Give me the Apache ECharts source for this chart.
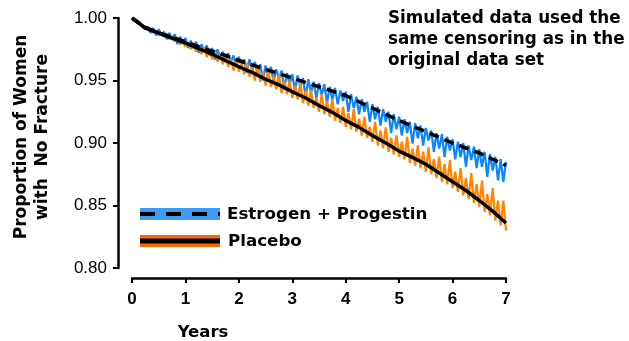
<!DOCTYPE html>
<html>
<head>
<meta charset="utf-8">
<script src="https://cdn.jsdelivr.net/npm/echarts@6/dist/echarts.min.js"></script>
<style>html,body{margin:0;padding:0;background:#fff}#c{width:629px;height:341px}</style>
</head>
<body>
<div id="c"></div>
<script>
// Mean survival curves (years, proportion)
const meanYears = [0,0.25,0.5,0.75,1,1.25,1.5,1.75,2,2.25,2.5,2.75,3,3.25,3.5,3.75,4,4.25,4.5,4.75,5,5.25,5.5,5.75,6,6.25,6.5,6.75,7];
const estrogenMean = [1.000,0.9925,0.988,0.9846,0.981,0.977,0.9735,0.970,0.966,0.9625,0.959,0.9555,0.952,0.9485,0.945,0.9415,0.938,0.933,0.928,0.923,0.918,0.9135,0.909,0.9045,0.900,0.896,0.892,0.887,0.882];
const placeboMean = [1.000,0.992,0.988,0.984,0.980,0.9755,0.971,0.966,0.961,0.9565,0.951,0.9465,0.941,0.936,0.930,0.9245,0.918,0.9125,0.906,0.900,0.8935,0.8885,0.883,0.876,0.869,0.862,0.854,0.8455,0.836];

// Simulated curves envelope, sampled every 0.1 year (hi/lo alternate)
const estrogenSimHi = [1.000,0.997,0.994,0.993,0.992,0.991,0.989,0.988,0.987,0.985,0.984,0.982,0.981,0.979,0.978,0.976,0.975,0.973,0.972,0.970,0.969,0.967,0.967,0.965,0.963,0.962,0.961,0.959,0.958,0.956,0.955,0.954,0.952,0.951,0.949,0.948,0.947,0.945,0.944,0.942,0.941,0.939,0.937,0.935,0.933,0.931,0.929,0.927,0.925,0.923,0.921,0.919,0.917,0.916,0.914,0.912,0.910,0.908,0.907,0.905,0.903,0.901,0.900,0.898,0.897,0.895,0.893,0.891,0.889,0.887,0.885];
const estrogenSimLo = [0.9975,0.9945,0.991,0.988,0.986,0.986,0.983,0.9826,0.979,0.9797,0.976,0.9757,0.972,0.9737,0.970,0.9667,0.968,0.9647,0.965,0.9607,0.961,0.956,0.9585,0.955,0.950,0.953,0.949,0.9515,0.943,0.9467,0.942,0.945,0.9365,0.940,0.9357,0.938,0.932,0.9345,0.931,0.9337,0.925,0.928,0.923,0.925,0.917,0.919,0.914,0.917,0.908,0.911,0.906,0.908,0.8995,0.9037,0.898,0.902,0.893,0.8955,0.8887,0.894,0.887,0.8886,0.881,0.8864,0.880,0.881,0.873,0.878,0.870,0.869];
const placeboSimLo = [1.000,0.996,0.992,0.990,0.988,0.986,0.985,0.983,0.981,0.979,0.977,0.975,0.973,0.971,0.969,0.967,0.965,0.963,0.961,0.958,0.957,0.955,0.953,0.950,0.949,0.946,0.945,0.943,0.940,0.939,0.936,0.935,0.932,0.930,0.928,0.925,0.923,0.921,0.918,0.916,0.913,0.911,0.909,0.906,0.904,0.901,0.898,0.896,0.893,0.891,0.889,0.887,0.884,0.882,0.880,0.877,0.875,0.872,0.869,0.867,0.864,0.861,0.858,0.855,0.852,0.849,0.845,0.842,0.838,0.834,0.830];
const placeboSimHi = [0.999,0.9962,0.9934,0.9914,0.990,0.988,0.9876,0.985,0.9844,0.9818,0.981,0.980,0.9775,0.9767,0.974,0.974,0.971,0.970,0.967,0.967,0.964,0.9643,0.9604,0.9613,0.957,0.958,0.9533,0.955,0.950,0.950,0.946,0.948,0.942,0.9426,0.936,0.939,0.9337,0.935,0.928,0.929,0.924,0.927,0.9194,0.921,0.913,0.917,0.910,0.9126,0.904,0.906,0.901,0.905,0.8955,0.898,0.893,0.8966,0.887,0.889,0.883,0.8864,0.877,0.880,0.872,0.876,0.867,0.870,0.859,0.864,0.854,0.854];

const xTicks = [0,1,2,3,4,5,6,7];
const yTicks = [0.80,0.85,0.90,0.95,1.00];

const gridTimes = Array.from({length:71},(_,i)=>+(i*0.1).toFixed(2));
const midTimes = Array.from({length:70},(_,i)=>+(i*0.1+0.05).toFixed(2));

function zigzag(onGrid, onMid){
  const out = [];
  for (let i=0;i<onGrid.length;i++){
    out.push([gridTimes[i], onGrid[i]]);
    if (i<onMid.length) out.push([midTimes[i], onMid[i]]);
  }
  return out;
}
const pair = (xs, ys) => xs.map((x,i)=>[x, ys[i]]);

const BLUE = '#0a86ff', ORANGE = '#ff8400';
const chart = echarts.init(document.getElementById('c'), null, {renderer:'canvas'});
chart.setOption({
  animation:false,
  grid:{left:132,right:123,top:18,bottom:73},
  xAxis:{type:'value',min:0,max:7,interval:1,offset:10,
    axisLine:{show:true,onZero:false,lineStyle:{color:'#000',width:2.5}},
    axisTick:{show:true,length:5,lineStyle:{color:'#000',width:2}},
    axisLabel:{margin:13,color:'#000',fontFamily:'Liberation Sans',fontWeight:'bold',fontSize:17,
      formatter:v=>xTicks.includes(v)?String(v):''},
    splitLine:{show:false}},
  yAxis:{type:'value',min:0.8,max:1.0,interval:0.05,offset:14,
    axisLine:{show:true,onZero:false,lineStyle:{color:'#000',width:2.5}},
    axisTick:{show:true,length:5,lineStyle:{color:'#000',width:2}},
    axisLabel:{margin:11,color:'#000',fontFamily:'Liberation Sans',fontSize:17,
      formatter:v=>yTicks.some(t=>Math.abs(t-v)<1e-6)?v.toFixed(2):''},
    splitLine:{show:false}},
  series:[
    {type:'line',data:zigzag(estrogenSimHi,estrogenSimLo),showSymbol:false,silent:true,
      lineStyle:{color:BLUE,width:2.2},z:1},
    {type:'line',data:zigzag(placeboSimLo,placeboSimHi),showSymbol:false,silent:true,
      lineStyle:{color:ORANGE,width:2.2},z:2},
    {type:'line',data:pair(meanYears,placeboMean),showSymbol:false,silent:true,
      lineStyle:{color:'#000',width:3.5},z:3},
    {type:'line',data:pair(meanYears,estrogenMean),showSymbol:false,silent:true,
      lineStyle:{color:'#000',width:3.5,type:[10,6]},z:4}
  ],
  graphic:[
    {type:'text',x:32,y:137,rotation:Math.PI/2,style:{text:'Proportion of Women\nwith  No Fracture',
      fill:'#000',font:'bold 17px "DejaVu Sans"',align:'center',verticalAlign:'middle',lineHeight:21}},
    {type:'text',x:203,y:333,style:{text:'Years',fill:'#000',font:'bold 16.5px "DejaVu Sans"',align:'center',verticalAlign:'middle'}},
    {type:'text',x:388,y:8,style:{text:'Simulated data used the\nsame censoring as in the\noriginal data set',
      fill:'#000',font:'bold 16.8px "DejaVu Sans"',lineHeight:21,verticalAlign:'top'}},
    {type:'rect',shape:{x:140,y:208,width:80,height:12},style:{fill:'#3d9cf0'}},
    {type:'line',shape:{x1:140,y1:214,x2:220,y2:214},style:{stroke:'#000',lineWidth:4,lineDash:[15,11]}},
    {type:'rect',shape:{x:140,y:235,width:80,height:12},style:{fill:'#ff6a00'}},
    {type:'line',shape:{x1:140,y1:241,x2:220,y2:241},style:{stroke:'#000',lineWidth:5}},
    {type:'text',x:227,y:215,style:{text:'Estrogen + Progestin',fill:'#000',font:'bold 16.7px "DejaVu Sans"',verticalAlign:'middle'}},
    {type:'text',x:228,y:242,style:{text:'Placebo',fill:'#000',font:'bold 16.7px "DejaVu Sans"',verticalAlign:'middle'}}
  ]
});
</script>
</body>
</html>
